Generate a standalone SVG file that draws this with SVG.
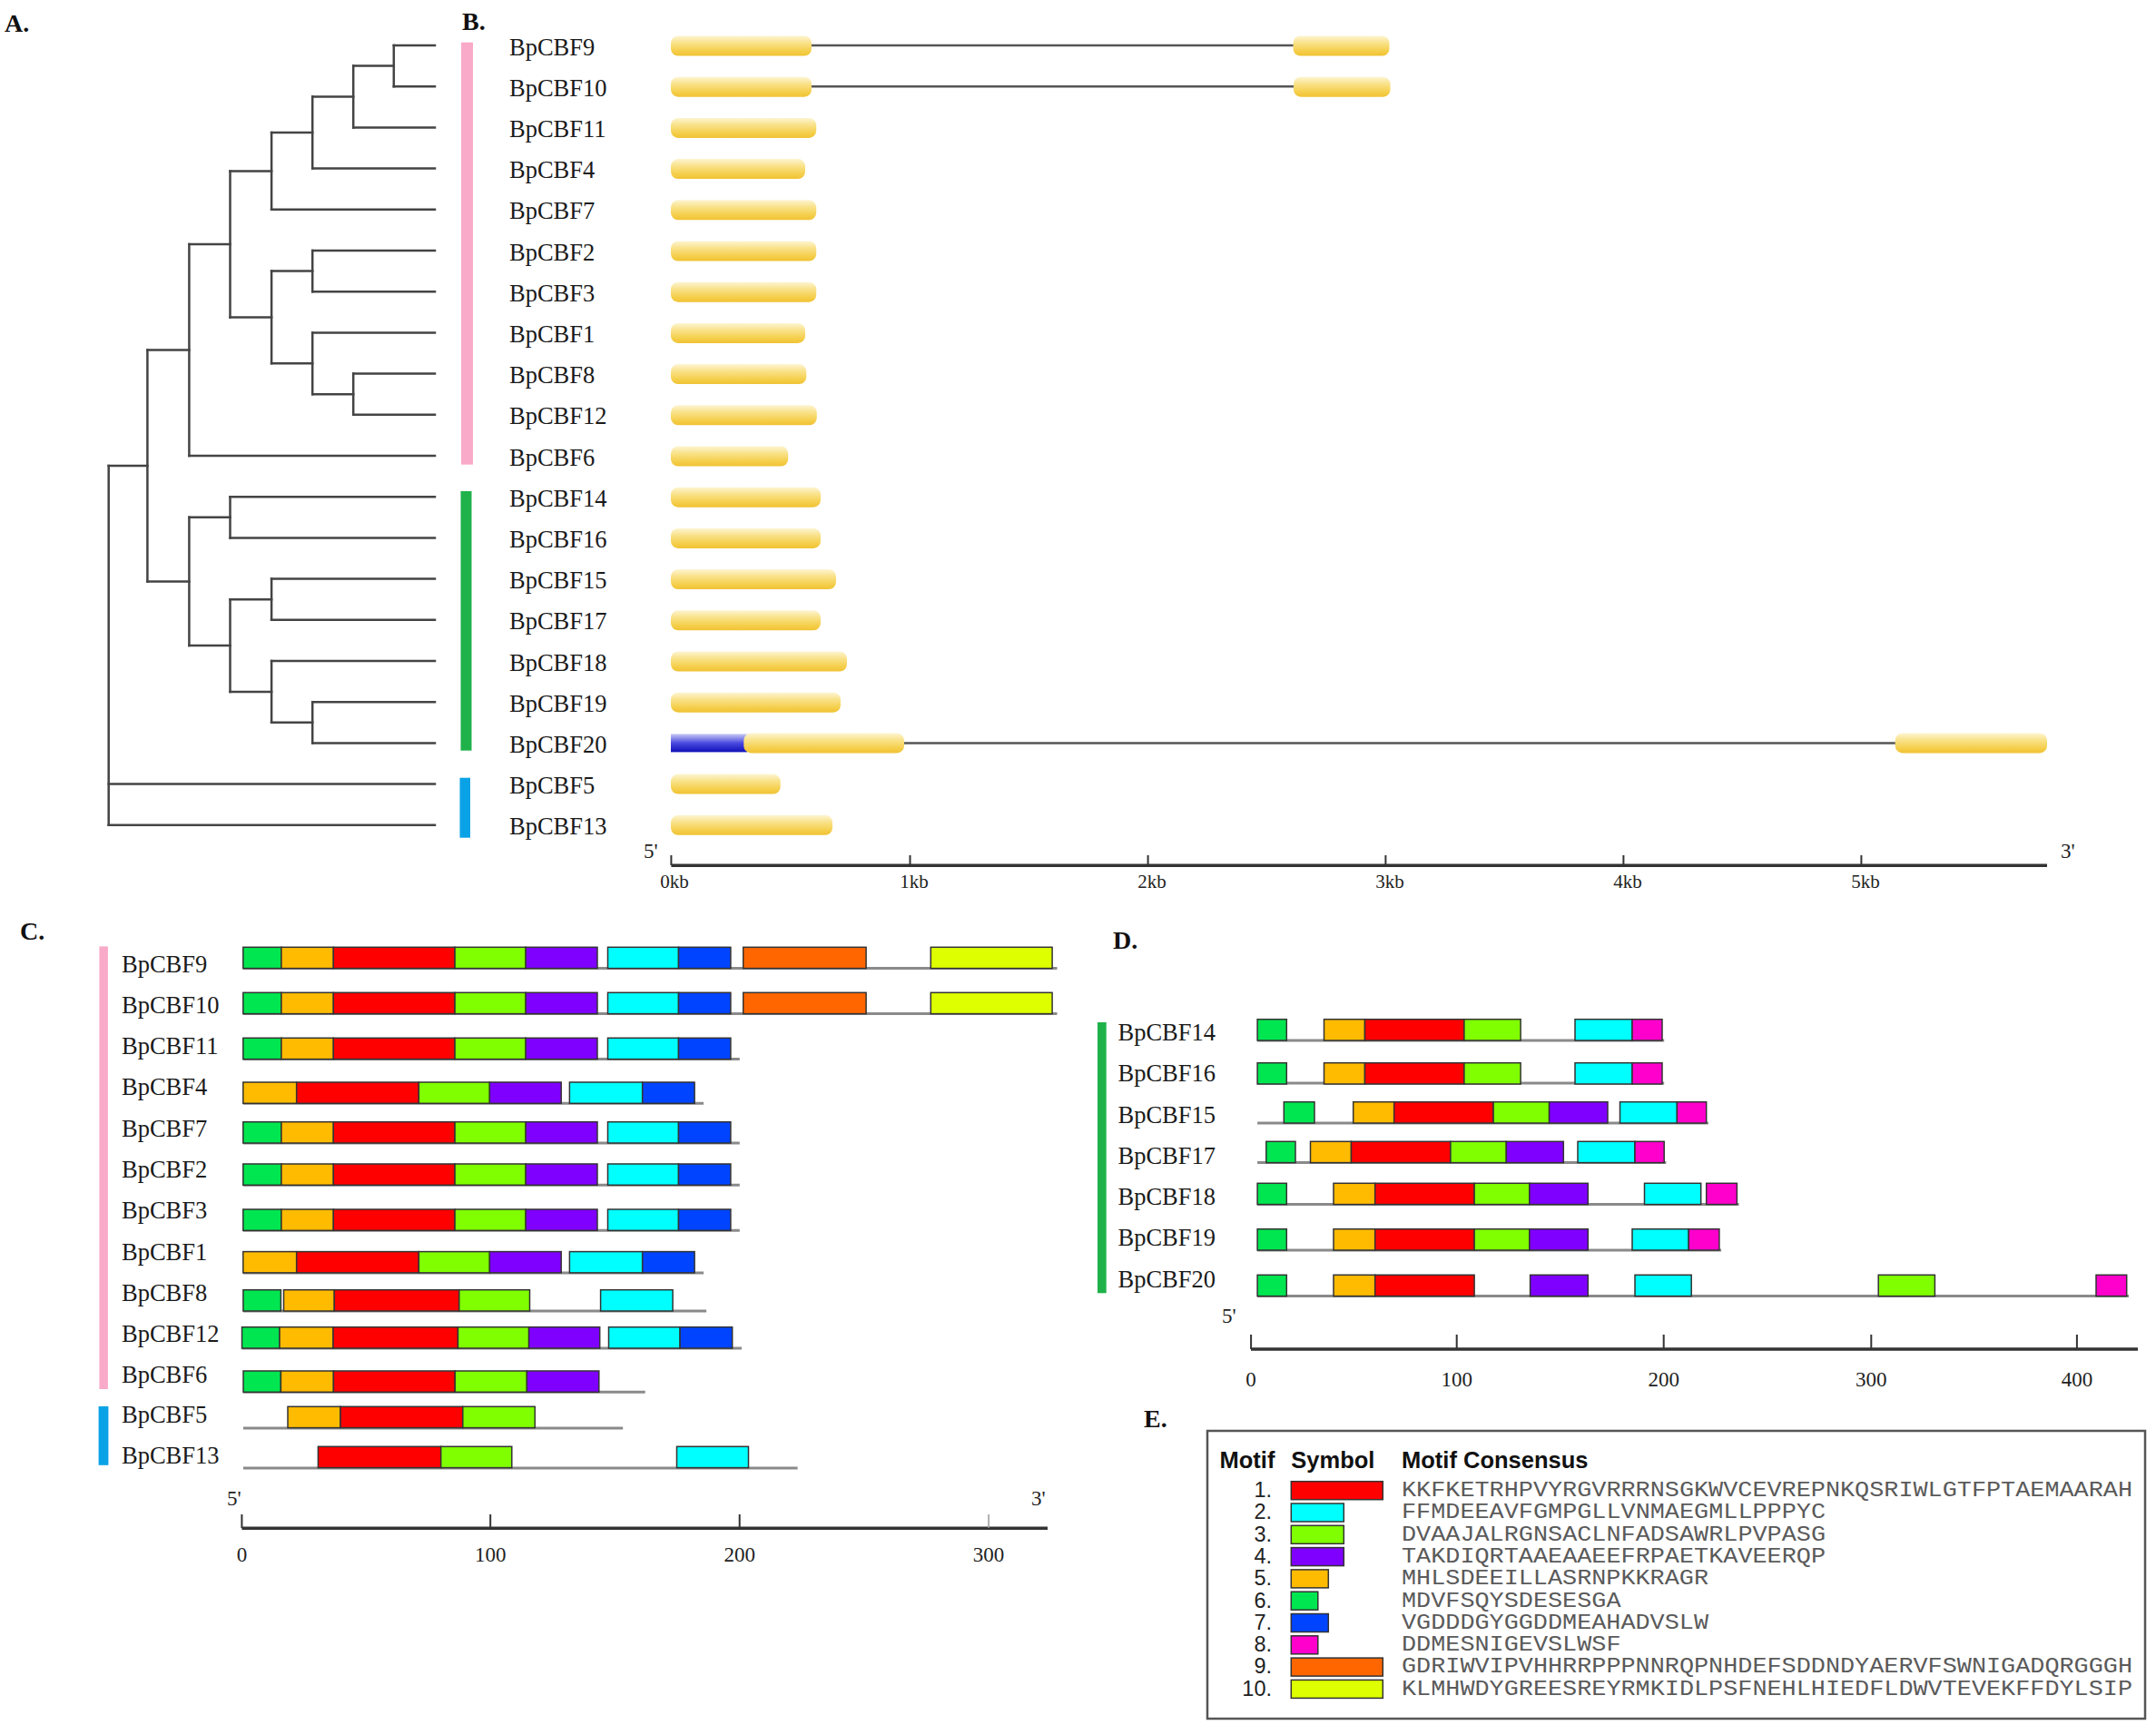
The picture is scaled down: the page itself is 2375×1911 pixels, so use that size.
<svg xmlns="http://www.w3.org/2000/svg" width="2375" height="1911" viewBox="0 0 2375 1911">
<style>
.lbl{font-family:"Liberation Serif","Times New Roman",serif;font-size:26.5px;fill:#1a1a1a}
.pl{font-family:"Liberation Serif","Times New Roman",serif;font-size:28px;font-weight:bold;fill:#111}
.ax{font-family:"Liberation Serif","Times New Roman",serif;font-size:23px;fill:#222}
.kb{font-family:"Liberation Serif","Times New Roman",serif;font-size:21px;fill:#222}
.tr{stroke:#444;stroke-width:2.5;fill:none;stroke-linecap:square}
.intr{stroke:#555;stroke-width:2.5}
.gl{stroke:#8a8a8a;stroke-width:3}
.axl{stroke:#333;stroke-width:3.5}
.tk{stroke:#333;stroke-width:2}
.mb{stroke:#333;stroke-width:1.5}
.m1{fill:#ff0000}.m2{fill:#00ffff}.m3{fill:#80ff00}.m4{fill:#8000ff}.m5{fill:#ffbb00}
.m6{fill:#00e650}.m7{fill:#0044ff}.m8{fill:#ff00cc}.m9{fill:#ff6600}.m10{fill:#ddff00}
.ex{fill:url(#exg)}
.hd{font-family:"Liberation Sans",Arial,sans-serif;font-size:25.5px;font-weight:bold;fill:#111}
.num{font-family:"Liberation Sans",Arial,sans-serif;font-size:23.5px;fill:#222;text-anchor:end}
.cs{font-family:"Liberation Mono","Courier New",monospace;font-size:23.5px;fill:#5a5a5a}
</style>
<defs>
<linearGradient id="exg" x1="0" y1="0" x2="0" y2="1">
<stop offset="0" stop-color="#fdf5d2"/>
<stop offset="0.35" stop-color="#f9e28a"/>
<stop offset="0.75" stop-color="#f5cf4c"/>
<stop offset="1" stop-color="#f0c233"/>
</linearGradient>
<linearGradient id="utr" x1="0" y1="0" x2="0" y2="1">
<stop offset="0" stop-color="#c8c8f5"/>
<stop offset="0.5" stop-color="#4a4ae0"/>
<stop offset="1" stop-color="#1010b8"/>
</linearGradient>
</defs>
<rect width="2375" height="1911" fill="#ffffff"/>

<!-- Panel letters -->
<text class="pl" x="5" y="35">A.</text>
<text class="pl" x="509" y="33">B.</text>
<text class="pl" x="22" y="1035">C.</text>
<text class="pl" x="1226" y="1045">D.</text>
<text class="pl" x="1260" y="1572">E.</text>

<!-- Panel A: tree connectors -->
<g id="tree-connectors" class="tr">
<path d="M433.8,50H479M433.8,95.2H479M389.2,72.6H433.8M389.2,140.4H479M344.2,106.5H389.2M344.2,185.6H479M299.1,146H344.2M299.1,230.8H479M253.5,188.4H299.1M344.2,276H479M344.2,321.2H479M299.1,298.6H344.2M344.2,366.4H479M389.2,411.6H479M389.2,456.8H479M344.2,434.2H389.2M299.1,400.3H344.2M253.5,349.5H299.1M208.4,269H253.5M208.4,502H479M162.4,385.5H208.4M253.5,547.2H479M253.5,592.4H479M208.4,569.8H253.5M299.1,637.6H479M299.1,682.8H479M253.5,660.2H299.1M299.1,728H479M344.2,773.2H479M344.2,818.4H479M299.1,795.8H344.2M253.5,761.9H299.1M208.4,711H253.5M162.4,640.4H208.4M119.7,513H162.4M119.7,863.6H479M119.7,908.8H479"/>
<path d="M433.8,50V95.2M389.2,72.6V140.4M344.2,106.5V185.6M299.1,146V230.8M344.2,276V321.2M389.2,411.6V456.8M344.2,366.4V434.2M299.1,298.6V400.3M253.5,188.4V349.5M208.4,269V502M253.5,547.2V592.4M299.1,637.6V682.8M344.2,773.2V818.4M299.1,728V795.8M253.5,660.2V761.9M208.4,569.8V711M162.4,385.5V640.4M119.7,513V908.8"/>
</g>

<!-- Group bars A/B -->
<g id="groupbars-ab">
<rect x="508" y="46.7" width="13" height="465" fill="#f9aac8"/>
<rect x="507.5" y="541" width="12" height="285.7" fill="#1fb24a"/>
<rect x="506.5" y="856.7" width="11.5" height="66" fill="#0aa2e6"/>
</g>

<!-- Panel B gene structures -->
<g id="gene-BpCBF9"><text class="lbl" x="561" y="60.5">BpCBF9</text><line class="intr" x1="894" y1="50" x2="1425" y2="50"/><rect class="ex" x="739" y="39.5" width="155" height="22" rx="8"/><rect class="ex" x="1424.5" y="39.5" width="106" height="22" rx="8"/></g>
<g id="gene-BpCBF10"><text class="lbl" x="561" y="105.7">BpCBF10</text><line class="intr" x1="894" y1="95.2" x2="1425" y2="95.2"/><rect class="ex" x="739" y="84.7" width="155" height="22" rx="8"/><rect class="ex" x="1425" y="84.7" width="106.5" height="22" rx="8"/></g>
<g id="gene-BpCBF11"><text class="lbl" x="561" y="150.9">BpCBF11</text><rect class="ex" x="739" y="129.9" width="160.2" height="22" rx="8"/></g>
<g id="gene-BpCBF4"><text class="lbl" x="561" y="196.1">BpCBF4</text><rect class="ex" x="739" y="175.1" width="148" height="22" rx="8"/></g>
<g id="gene-BpCBF7"><text class="lbl" x="561" y="241.3">BpCBF7</text><rect class="ex" x="739" y="220.3" width="160.2" height="22" rx="8"/></g>
<g id="gene-BpCBF2"><text class="lbl" x="561" y="286.5">BpCBF2</text><rect class="ex" x="739" y="265.5" width="160.2" height="22" rx="8"/></g>
<g id="gene-BpCBF3"><text class="lbl" x="561" y="331.7">BpCBF3</text><rect class="ex" x="739" y="310.7" width="160.2" height="22" rx="8"/></g>
<g id="gene-BpCBF1"><text class="lbl" x="561" y="376.9">BpCBF1</text><rect class="ex" x="739" y="355.9" width="148" height="22" rx="8"/></g>
<g id="gene-BpCBF8"><text class="lbl" x="561" y="422.1">BpCBF8</text><rect class="ex" x="739" y="401.1" width="149.3" height="22" rx="8"/></g>
<g id="gene-BpCBF12"><text class="lbl" x="561" y="467.3">BpCBF12</text><rect class="ex" x="739" y="446.3" width="160.8" height="22" rx="8"/></g>
<g id="gene-BpCBF6"><text class="lbl" x="561" y="512.5">BpCBF6</text><rect class="ex" x="739" y="491.5" width="129.2" height="22" rx="8"/></g>
<g id="gene-BpCBF14"><text class="lbl" x="561" y="557.7">BpCBF14</text><rect class="ex" x="739" y="536.7" width="165" height="22" rx="8"/></g>
<g id="gene-BpCBF16"><text class="lbl" x="561" y="602.9">BpCBF16</text><rect class="ex" x="739" y="581.9" width="165" height="22" rx="8"/></g>
<g id="gene-BpCBF15"><text class="lbl" x="561" y="648.1">BpCBF15</text><rect class="ex" x="739" y="627.1" width="182" height="22" rx="8"/></g>
<g id="gene-BpCBF17"><text class="lbl" x="561" y="693.3">BpCBF17</text><rect class="ex" x="739" y="672.3" width="165" height="22" rx="8"/></g>
<g id="gene-BpCBF18"><text class="lbl" x="561" y="738.5">BpCBF18</text><rect class="ex" x="739" y="717.5" width="194" height="22" rx="8"/></g>
<g id="gene-BpCBF19"><text class="lbl" x="561" y="783.7">BpCBF19</text><rect class="ex" x="739" y="762.7" width="187" height="22" rx="8"/></g>
<g id="gene-BpCBF20"><text class="lbl" x="561" y="828.9">BpCBF20</text><line class="intr" x1="990" y1="818.4" x2="2092" y2="818.4"/><rect x="739" y="808.4" width="84" height="20" fill="url(#utr)"/><rect class="ex" x="819.3" y="807.4" width="176.7" height="22" rx="8"/><rect class="ex" x="2087.7" y="807.4" width="167.3" height="22" rx="8"/></g>
<g id="gene-BpCBF5"><text class="lbl" x="561" y="874.1">BpCBF5</text><rect class="ex" x="739" y="852.6" width="120.7" height="22" rx="8"/></g>
<g id="gene-BpCBF13"><text class="lbl" x="561" y="919.3">BpCBF13</text><rect class="ex" x="739" y="897.8" width="178" height="22" rx="8"/></g>

<!-- Panel B axis -->
<g id="axis-b">
<text class="ax" x="709" y="945">5'</text>
<text class="ax" x="2270" y="945">3'</text>
<line class="axl" x1="739.4" y1="953.3" x2="2255" y2="953.3"/>
<path class="tk" d="M739.4,942V953M1002.5,942V953M1264.6,942V953M1526.4,942V953M1788.4,942V953M2050.4,942V953"/>
<g class="kb" text-anchor="middle">
<text x="743" y="978">0kb</text><text x="1007" y="978">1kb</text><text x="1269" y="978">2kb</text><text x="1531" y="978">3kb</text><text x="1793" y="978">4kb</text><text x="2055" y="978">5kb</text>
</g>
</g>

<!-- Panel C -->
<g id="groupbars-c">
<rect x="109.4" y="1042.4" width="9.5" height="487.6" fill="#f9aac8"/>
<rect x="108.6" y="1549" width="10.8" height="64.8" fill="#0aa2e6"/>
</g>
<g id="c-BpCBF9"><text class="lbl" x="134" y="1070.6">BpCBF9</text><line class="gl" x1="267.8" y1="1066.6" x2="1164.5" y2="1066.6"/>
<g class="mb"><rect class="m6" x="267.8" y="1043.3" width="42.1" height="23.3"/><rect class="m5" x="309.9" y="1043.3" width="57.4" height="23.3"/><rect class="m1" x="367.3" y="1043.3" width="133.8" height="23.3"/><rect class="m3" x="501.1" y="1043.3" width="78.1" height="23.3"/><rect class="m4" x="579.2" y="1043.3" width="78.8" height="23.3"/><rect class="m2" x="669.5" y="1043.3" width="78" height="23.3"/><rect class="m7" x="747.5" y="1043.3" width="57.4" height="23.3"/><rect class="m9" x="818.7" y="1043.3" width="135.4" height="23.3"/><rect class="m10" x="1025.3" y="1043.3" width="133.8" height="23.3"/></g></g>
<g id="c-BpCBF10"><text class="lbl" x="134" y="1116">BpCBF10</text><line class="gl" x1="267.8" y1="1116.6" x2="1164.5" y2="1116.6"/>
<g class="mb"><rect class="m6" x="267.8" y="1093.3" width="42.1" height="23.3"/><rect class="m5" x="309.9" y="1093.3" width="57.4" height="23.3"/><rect class="m1" x="367.3" y="1093.3" width="133.8" height="23.3"/><rect class="m3" x="501.1" y="1093.3" width="78.1" height="23.3"/><rect class="m4" x="579.2" y="1093.3" width="78.8" height="23.3"/><rect class="m2" x="669.5" y="1093.3" width="78" height="23.3"/><rect class="m7" x="747.5" y="1093.3" width="57.4" height="23.3"/><rect class="m9" x="818.7" y="1093.3" width="135.4" height="23.3"/><rect class="m10" x="1025.3" y="1093.3" width="133.8" height="23.3"/></g></g>
<g id="c-BpCBF11"><text class="lbl" x="134" y="1160.8">BpCBF11</text><line class="gl" x1="267.8" y1="1166.6" x2="814.8" y2="1166.6"/>
<g class="mb"><rect class="m6" x="267.8" y="1143.3" width="42.1" height="23.3"/><rect class="m5" x="309.9" y="1143.3" width="57.4" height="23.3"/><rect class="m1" x="367.3" y="1143.3" width="133.8" height="23.3"/><rect class="m3" x="501.1" y="1143.3" width="78.1" height="23.3"/><rect class="m4" x="579.2" y="1143.3" width="78.8" height="23.3"/><rect class="m2" x="669.5" y="1143.3" width="78" height="23.3"/><rect class="m7" x="747.5" y="1143.3" width="57.4" height="23.3"/></g></g>
<g id="c-BpCBF4"><text class="lbl" x="134" y="1206.3">BpCBF4</text><line class="gl" x1="267.8" y1="1215.3" x2="775.1" y2="1215.3"/>
<g class="mb"><rect class="m5" x="267.8" y="1192" width="58.9" height="23.3"/><rect class="m1" x="326.7" y="1192" width="134.7" height="23.3"/><rect class="m3" x="461.4" y="1192" width="78" height="23.3"/><rect class="m4" x="539.4" y="1192" width="78.8" height="23.3"/><rect class="m2" x="627.4" y="1192" width="80.3" height="23.3"/><rect class="m7" x="707.7" y="1192" width="57.4" height="23.3"/></g></g>
<g id="c-BpCBF7"><text class="lbl" x="134" y="1252.3">BpCBF7</text><line class="gl" x1="267.8" y1="1259" x2="814.8" y2="1259"/>
<g class="mb"><rect class="m6" x="267.8" y="1235.7" width="42.1" height="23.3"/><rect class="m5" x="309.9" y="1235.7" width="57.4" height="23.3"/><rect class="m1" x="367.3" y="1235.7" width="133.8" height="23.3"/><rect class="m3" x="501.1" y="1235.7" width="78.1" height="23.3"/><rect class="m4" x="579.2" y="1235.7" width="78.8" height="23.3"/><rect class="m2" x="669.5" y="1235.7" width="78" height="23.3"/><rect class="m7" x="747.5" y="1235.7" width="57.4" height="23.3"/></g></g>
<g id="c-BpCBF2"><text class="lbl" x="134" y="1297">BpCBF2</text><line class="gl" x1="267.8" y1="1305.3" x2="814.8" y2="1305.3"/>
<g class="mb"><rect class="m6" x="267.8" y="1282" width="42.1" height="23.3"/><rect class="m5" x="309.9" y="1282" width="57.4" height="23.3"/><rect class="m1" x="367.3" y="1282" width="133.8" height="23.3"/><rect class="m3" x="501.1" y="1282" width="78.1" height="23.3"/><rect class="m4" x="579.2" y="1282" width="78.8" height="23.3"/><rect class="m2" x="669.5" y="1282" width="78" height="23.3"/><rect class="m7" x="747.5" y="1282" width="57.4" height="23.3"/></g></g>
<g id="c-BpCBF3"><text class="lbl" x="134" y="1341.6">BpCBF3</text><line class="gl" x1="267.8" y1="1355.3" x2="814.8" y2="1355.3"/>
<g class="mb"><rect class="m6" x="267.8" y="1332" width="42.1" height="23.3"/><rect class="m5" x="309.9" y="1332" width="57.4" height="23.3"/><rect class="m1" x="367.3" y="1332" width="133.8" height="23.3"/><rect class="m3" x="501.1" y="1332" width="78.1" height="23.3"/><rect class="m4" x="579.2" y="1332" width="78.8" height="23.3"/><rect class="m2" x="669.5" y="1332" width="78" height="23.3"/><rect class="m7" x="747.5" y="1332" width="57.4" height="23.3"/></g></g>
<g id="c-BpCBF1"><text class="lbl" x="134" y="1387.6">BpCBF1</text><line class="gl" x1="267.8" y1="1401.9" x2="775.1" y2="1401.9"/>
<g class="mb"><rect class="m5" x="267.8" y="1378.6" width="58.9" height="23.3"/><rect class="m1" x="326.7" y="1378.6" width="134.7" height="23.3"/><rect class="m3" x="461.4" y="1378.6" width="78" height="23.3"/><rect class="m4" x="539.4" y="1378.6" width="78.8" height="23.3"/><rect class="m2" x="627.4" y="1378.6" width="80.3" height="23.3"/><rect class="m7" x="707.7" y="1378.6" width="57.4" height="23.3"/></g></g>
<g id="c-BpCBF8"><text class="lbl" x="134" y="1433">BpCBF8</text><line class="gl" x1="267.9" y1="1444" x2="778.1" y2="1444"/>
<g class="mb"><rect class="m6" x="267.9" y="1420.7" width="41.5" height="23.3"/><rect class="m5" x="312.5" y="1420.7" width="55.8" height="23.3"/><rect class="m1" x="368.3" y="1420.7" width="137.5" height="23.3"/><rect class="m3" x="505.8" y="1420.7" width="77.7" height="23.3"/><rect class="m2" x="661.6" y="1420.7" width="79.5" height="23.3"/></g></g>
<g id="c-BpCBF12"><text class="lbl" x="134" y="1477.8">BpCBF12</text><line class="gl" x1="266.5" y1="1485" x2="817" y2="1485"/>
<g class="mb"><rect class="m6" x="266.5" y="1461.7" width="41.5" height="23.3"/><rect class="m5" x="308" y="1461.7" width="59" height="23.3"/><rect class="m1" x="367" y="1461.7" width="137.5" height="23.3"/><rect class="m3" x="504.5" y="1461.7" width="78.1" height="23.3"/><rect class="m4" x="582.6" y="1461.7" width="78.1" height="23.3"/><rect class="m2" x="670.5" y="1461.7" width="78.6" height="23.3"/><rect class="m7" x="749.1" y="1461.7" width="57.6" height="23.3"/></g></g>
<g id="c-BpCBF6"><text class="lbl" x="134" y="1523">BpCBF6</text><line class="gl" x1="268" y1="1533.3" x2="710.7" y2="1533.3"/>
<g class="mb"><rect class="m6" x="268" y="1510" width="41.4" height="23.3"/><rect class="m5" x="309.4" y="1510" width="58" height="23.3"/><rect class="m1" x="367.4" y="1510" width="133.9" height="23.3"/><rect class="m3" x="501.3" y="1510" width="79.1" height="23.3"/><rect class="m4" x="580.4" y="1510" width="79.4" height="23.3"/></g></g>
<g id="c-BpCBF5"><text class="lbl" x="134" y="1567">BpCBF5</text><line class="gl" x1="268" y1="1573" x2="686.2" y2="1573"/>
<g class="mb"><rect class="m5" x="317" y="1549.3" width="58" height="23.3"/><rect class="m1" x="375" y="1549.3" width="134.8" height="23.3"/><rect class="m3" x="509.8" y="1549.3" width="79.5" height="23.3"/></g></g>
<g id="c-BpCBF13"><text class="lbl" x="134" y="1611.7">BpCBF13</text><line class="gl" x1="268" y1="1617" x2="878.6" y2="1617"/>
<g class="mb"><rect class="m1" x="350.4" y="1593.3" width="135.3" height="23.3"/><rect class="m3" x="485.7" y="1593.3" width="78.1" height="23.3"/><rect class="m2" x="745.5" y="1593.3" width="79" height="23.3"/></g></g>

<g id="axis-c">
<text class="ax" x="250" y="1658">5'</text>
<text class="ax" x="1136" y="1658">3'</text>
<line class="axl" x1="266.4" y1="1683.3" x2="1154" y2="1683.3"/>
<path class="tk" d="M266.4,1668V1683M540.2,1668V1683M814.7,1668V1683"/>
<path d="M1089.1,1668V1683" stroke="#999" stroke-width="1.5"/>
<g class="ax" text-anchor="middle"><text x="266.4" y="1720">0</text><text x="540.2" y="1720">100</text><text x="814.7" y="1720">200</text><text x="1089.1" y="1720">300</text></g>
</g>

<!-- Panel D -->
<rect id="groupbar-d" x="1209" y="1126" width="9.7" height="298.3" fill="#1fb24a"/>
<g id="d-BpCBF14"><text class="lbl" x="1231.5" y="1145.7">BpCBF14</text><line class="gl" x1="1385.1" y1="1146" x2="1833.2" y2="1146"/>
<g class="mb"><rect class="m6" x="1385.1" y="1122.7" width="32.2" height="23.3"/><rect class="m5" x="1458.5" y="1122.7" width="45" height="23.3"/><rect class="m1" x="1503.5" y="1122.7" width="109.4" height="23.3"/><rect class="m3" x="1612.9" y="1122.7" width="62.2" height="23.3"/><rect class="m2" x="1735" y="1122.7" width="63" height="23.3"/><rect class="m8" x="1798" y="1122.7" width="33" height="23.3"/></g></g>
<g id="d-BpCBF16"><text class="lbl" x="1231.5" y="1191">BpCBF16</text><line class="gl" x1="1385.1" y1="1193" x2="1833.2" y2="1193"/>
<g class="mb"><rect class="m6" x="1385.1" y="1170.7" width="32.2" height="23.3"/><rect class="m5" x="1458.5" y="1170.7" width="45" height="23.3"/><rect class="m1" x="1503.5" y="1170.7" width="109.4" height="23.3"/><rect class="m3" x="1612.9" y="1170.7" width="62.2" height="23.3"/><rect class="m2" x="1735" y="1170.7" width="63" height="23.3"/><rect class="m8" x="1798" y="1170.7" width="33" height="23.3"/></g></g>
<g id="d-BpCBF15"><text class="lbl" x="1231.5" y="1236.7">BpCBF15</text><line class="gl" x1="1385.1" y1="1237" x2="1881.9" y2="1237"/>
<g class="mb"><rect class="m6" x="1414.3" y="1213.7" width="33.7" height="23.3"/><rect class="m5" x="1490.7" y="1213.7" width="45" height="23.3"/><rect class="m1" x="1535.7" y="1213.7" width="109.4" height="23.3"/><rect class="m3" x="1645.1" y="1213.7" width="61.5" height="23.3"/><rect class="m4" x="1706.6" y="1213.7" width="64.4" height="23.3"/><rect class="m2" x="1784.5" y="1213.7" width="62.9" height="23.3"/><rect class="m8" x="1847.4" y="1213.7" width="32.3" height="23.3"/></g></g>
<g id="d-BpCBF17"><text class="lbl" x="1231.5" y="1281.7">BpCBF17</text><line class="gl" x1="1385.1" y1="1280.6" x2="1835.4" y2="1280.6"/>
<g class="mb"><rect class="m6" x="1394.8" y="1257.3" width="32.2" height="23.3"/><rect class="m5" x="1443.5" y="1257.3" width="45" height="23.3"/><rect class="m1" x="1488.5" y="1257.3" width="109.4" height="23.3"/><rect class="m3" x="1597.9" y="1257.3" width="61.4" height="23.3"/><rect class="m4" x="1659.3" y="1257.3" width="63" height="23.3"/><rect class="m2" x="1738" y="1257.3" width="63" height="23.3"/><rect class="m8" x="1801" y="1257.3" width="32.2" height="23.3"/></g></g>
<g id="d-BpCBF18"><text class="lbl" x="1231.5" y="1327.3">BpCBF18</text><line class="gl" x1="1385.1" y1="1326.6" x2="1915.6" y2="1326.6"/>
<g class="mb"><rect class="m6" x="1385.1" y="1303.3" width="32.2" height="23.3"/><rect class="m5" x="1469" y="1303.3" width="45.7" height="23.3"/><rect class="m1" x="1514.7" y="1303.3" width="109.4" height="23.3"/><rect class="m3" x="1624.1" y="1303.3" width="60.7" height="23.3"/><rect class="m4" x="1684.8" y="1303.3" width="64.5" height="23.3"/><rect class="m2" x="1811.5" y="1303.3" width="62.2" height="23.3"/><rect class="m8" x="1879.7" y="1303.3" width="33.7" height="23.3"/></g></g>
<g id="d-BpCBF19"><text class="lbl" x="1231.5" y="1372.3">BpCBF19</text><line class="gl" x1="1385.1" y1="1377" x2="1896.1" y2="1377"/>
<g class="mb"><rect class="m6" x="1385.1" y="1353.7" width="32.2" height="23.3"/><rect class="m5" x="1469" y="1353.7" width="45.7" height="23.3"/><rect class="m1" x="1514.7" y="1353.7" width="109.4" height="23.3"/><rect class="m3" x="1624.1" y="1353.7" width="60.7" height="23.3"/><rect class="m4" x="1684.8" y="1353.7" width="64.5" height="23.3"/><rect class="m2" x="1798" y="1353.7" width="62.2" height="23.3"/><rect class="m8" x="1860.2" y="1353.7" width="33.7" height="23.3"/></g></g>
<g id="d-BpCBF20"><text class="lbl" x="1231.5" y="1418.3">BpCBF20</text><line class="gl" x1="1385.1" y1="1427.6" x2="2345" y2="1427.6"/>
<g class="mb"><rect class="m6" x="1385.1" y="1404.3" width="32.2" height="23.3"/><rect class="m5" x="1469" y="1404.3" width="45.7" height="23.3"/><rect class="m1" x="1514.7" y="1404.3" width="109.4" height="23.3"/><rect class="m4" x="1685.6" y="1404.3" width="63.7" height="23.3"/><rect class="m2" x="1801" y="1404.3" width="62.2" height="23.3"/><rect class="m3" x="2069.2" y="1404.3" width="62.2" height="23.3"/><rect class="m8" x="2309" y="1404.3" width="33.7" height="23.3"/></g></g>

<g id="axis-d">
<text class="ax" x="1346" y="1457">5'</text>
<line class="axl" x1="1378" y1="1486" x2="2355" y2="1486"/>
<path class="tk" d="M1378.1,1470V1486M1604.7,1470V1486M1832.7,1470V1486M2061.3,1470V1486M2287.9,1470V1486"/>
<g class="ax" text-anchor="middle"><text x="1378.1" y="1527">0</text><text x="1604.7" y="1527">100</text><text x="1832.7" y="1527">200</text><text x="2061.3" y="1527">300</text><text x="2287.9" y="1527">400</text></g>
</g>

<!-- Panel E legend -->
<g id="legend-e">
<rect x="1330" y="1576" width="1033" height="317" fill="#fff" stroke="#555" stroke-width="2.5"/>
<text class="hd" x="1343.5" y="1617">Motif</text>
<text class="hd" x="1422.3" y="1617">Symbol</text>
<text class="hd" x="1544" y="1617">Motif Consensus</text>
<g>
<text class="num" x="1401" y="1649">1.</text>
<text class="num" x="1401" y="1673.3">2.</text>
<text class="num" x="1401" y="1697.6">3.</text>
<text class="num" x="1401" y="1721.9">4.</text>
<text class="num" x="1401" y="1746.2">5.</text>
<text class="num" x="1401" y="1770.5">6.</text>
<text class="num" x="1401" y="1794.8">7.</text>
<text class="num" x="1401" y="1819.1">8.</text>
<text class="num" x="1401" y="1843.4">9.</text>
<text class="num" x="1401" y="1867.7">10.</text>
</g>
<g class="mb">
<rect class="m1" x="1422.3" y="1631.7" width="101" height="20"/>
<rect class="m2" x="1422.3" y="1656" width="58" height="20"/>
<rect class="m3" x="1422.3" y="1680.3" width="58" height="20"/>
<rect class="m4" x="1422.3" y="1704.6" width="58" height="20"/>
<rect class="m5" x="1422.3" y="1728.9" width="41" height="20"/>
<rect class="m6" x="1422.3" y="1753.2" width="29.5" height="20"/>
<rect class="m7" x="1422.3" y="1777.5" width="41" height="20"/>
<rect class="m8" x="1422.3" y="1801.8" width="29.5" height="20"/>
<rect class="m9" x="1422.3" y="1826.1" width="101" height="20"/>
<rect class="m10" x="1422.3" y="1850.4" width="101" height="20"/>
</g>
<g class="cs">
<text x="1544" y="1648" textLength="805" lengthAdjust="spacingAndGlyphs">KKFKETRHPVYRGVRRRNSGKWVCEVREPNKQSRIWLGTFPTAEMAARAH</text>
<text x="1544" y="1672.3" textLength="467" lengthAdjust="spacingAndGlyphs">FFMDEEAVFGMPGLLVNMAEGMLLPPPYC</text>
<text x="1544" y="1696.6" textLength="467" lengthAdjust="spacingAndGlyphs">DVAAJALRGNSACLNFADSAWRLPVPASG</text>
<text x="1544" y="1720.9" textLength="467" lengthAdjust="spacingAndGlyphs">TAKDIQRTAAEAAEEFRPAETKAVEERQP</text>
<text x="1544" y="1745.2" textLength="338" lengthAdjust="spacingAndGlyphs">MHLSDEEILLASRNPKKRAGR</text>
<text x="1544" y="1769.5" textLength="241.5" lengthAdjust="spacingAndGlyphs">MDVFSQYSDESESGA</text>
<text x="1544" y="1793.8" textLength="338" lengthAdjust="spacingAndGlyphs">VGDDDGYGGDDMEAHADVSLW</text>
<text x="1544" y="1818.1" textLength="241.5" lengthAdjust="spacingAndGlyphs">DDMESNIGEVSLWSF</text>
<text x="1544" y="1842.4" textLength="805" lengthAdjust="spacingAndGlyphs">GDRIWVIPVHHRRPPPNNRQPNHDEFSDDNDYAERVFSWNIGADQRGGGH</text>
<text x="1544" y="1866.7" textLength="805" lengthAdjust="spacingAndGlyphs">KLMHWDYGREESREYRMKIDLPSFNEHLHIEDFLDWVTEVEKFFDYLSIP</text>
</g>
</g>
</svg>
